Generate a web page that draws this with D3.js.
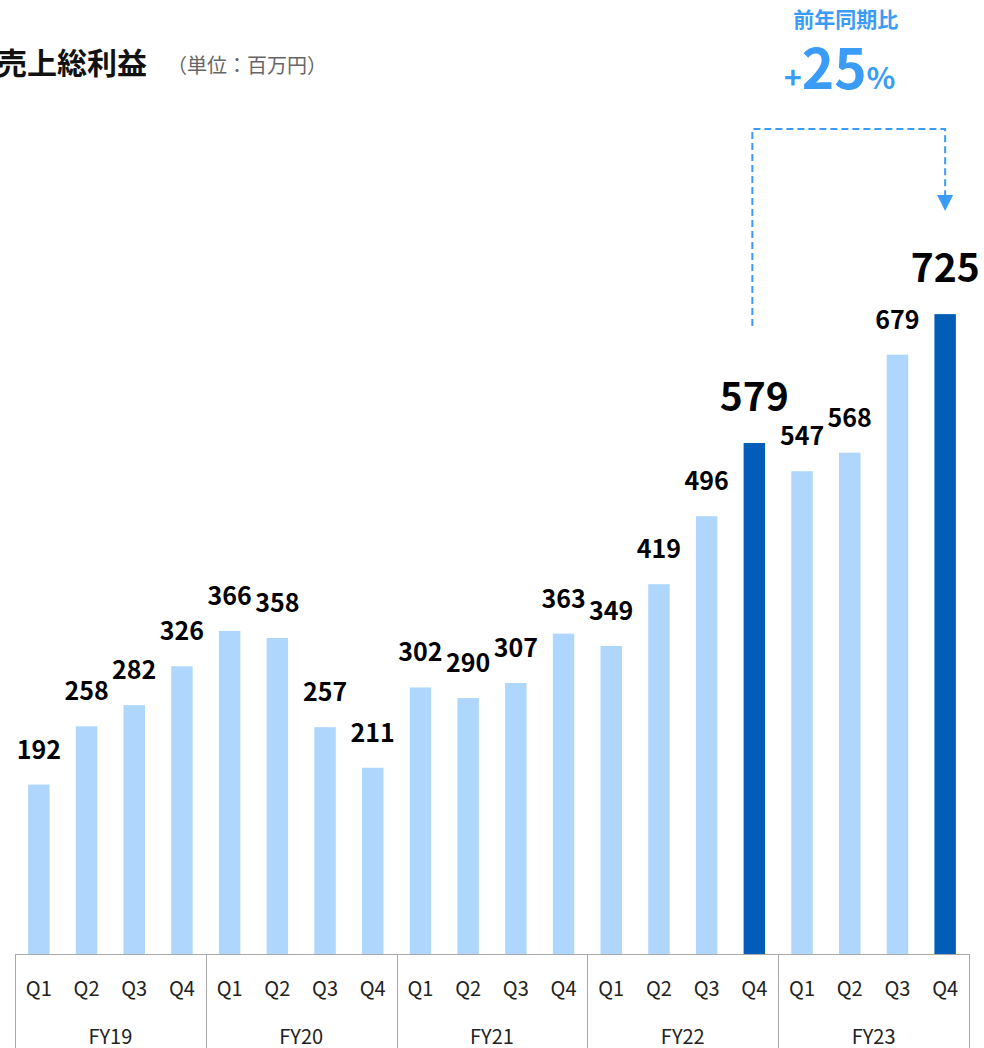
<!DOCTYPE html>
<html lang="ja">
<head>
    <meta charset="UTF-8">
    <title>売上総利益</title>
    <style>
        html, body { margin: 0; padding: 0; background: #fff; }
        svg text { font-family: 'Noto Sans CJK JP', 'Noto Sans', sans-serif; }
    </style>
    <script src="https://d3js.org/d3.v7.min.js"></script>
</head>
<body>
    <svg width="984" height="1048"></svg>
    <script>
        const years = ["FY19", "FY20", "FY21", "FY22", "FY23"];
        const quarters = ["Q1", "Q2", "Q3", "Q4"];
        const values = [
            192, 258, 282, 326,
            366, 358, 257, 211,
            302, 290, 307, 363,
            349, 419, 496, 579,
            547, 568, 679, 725
        ];
        const highlighted = ["FY22-Q4", "FY23-Q4"];
        const yoyLabel = "前年同期比";
        const yoyValue = "25";

        const data = [];
        years.forEach((fy, i) => quarters.forEach((q, j) => {
            data.push({ key: `${fy}-${q}`, fy, q, value: values[i * 4 + j] });
        }));

        const width = 984, height = 1048;
        const left = 15, right = 969, base = 954;
        const svg = d3.select("svg").attr("width", width).attr("height", height);

        const x = d3.scaleBand()
            .domain(data.map(d => d.key))
            .range([left, right])
            .paddingInner(0.55)
            .paddingOuter(0.275);

        const xYear = d3.scaleBand()
            .domain(years)
            .range([left, right]);

        const y = d3.scaleLinear()
            .domain([0, 1000])
            .range([base, base - 882.6]);

        const light = "#afd7fd", dark = "#015db7", accent = "#3a9cf6";

        // bars
        svg.append("g").selectAll("rect")
            .data(data)
            .enter().append("rect")
            .attr("x", d => x(d.key))
            .attr("y", d => y(d.value))
            .attr("width", x.bandwidth())
            .attr("height", d => y(0) - y(d.value))
            .attr("fill", d => highlighted.includes(d.key) ? dark : light);

        // value labels
        svg.append("g").selectAll("text")
            .data(data)
            .enter().append("text")
            .attr("x", d => x(d.key) + x.bandwidth() / 2)
            .attr("y", d => y(d.value) - (highlighted.includes(d.key) ? 32 : 26))
            .attr("text-anchor", "middle")
            .style("font-weight", "700")
            .style("font-size", d => highlighted.includes(d.key) ? "39px" : "25px")
            .style("fill", "#000")
            .text(d => d.value);

        // category axis box
        const axis = svg.append("g").attr("stroke", "#aaa").attr("stroke-width", 1).attr("fill", "none");
        axis.append("line").attr("x1", left).attr("x2", right).attr("y1", base + 0.5).attr("y2", base + 0.5);
        years.forEach(fy => {
            axis.append("line")
                .attr("x1", Math.round(xYear(fy)) + 0.5).attr("x2", Math.round(xYear(fy)) + 0.5)
                .attr("y1", base).attr("y2", height);
        });
        axis.append("line")
            .attr("x1", right + 0.5).attr("x2", right + 0.5)
            .attr("y1", base).attr("y2", height);

        svg.append("g").selectAll("text")
            .data(data)
            .enter().append("text")
            .attr("x", d => x(d.key) + x.bandwidth() / 2)
            .attr("y", 996)
            .attr("text-anchor", "middle")
            .style("font-size", "20px")
            .style("fill", "#222")
            .text(d => d.q);

        svg.append("g").selectAll("text")
            .data(years)
            .enter().append("text")
            .attr("x", d => xYear(d) + xYear.bandwidth() / 2)
            .attr("y", 1044)
            .attr("text-anchor", "middle")
            .style("font-size", "20px")
            .style("fill", "#222")
            .text(d => d);

        // title
        svg.append("text")
            .attr("x", 147)
            .attr("y", 74)
            .attr("text-anchor", "end")
            .style("font-size", "30px")
            .style("font-weight", "700")
            .style("fill", "#111")
            .text("売上総利益");

        svg.append("text")
            .attr("x", 167)
            .attr("y", 73)
            .style("font-size", "20px")
            .style("fill", "#666")
            .text("（単位：百万円）");

        // year-over-year annotation
        const from = data.find(d => d.key === highlighted[0]);
        const to = data.find(d => d.key === highlighted[1]);
        const x0 = x(from.key) + x.bandwidth() / 2 - 2;
        const x1 = x(to.key) + x.bandwidth() / 2;
        const topY = 129;

        svg.append("path")
            .attr("d", `M${x0},${y(from.value) - 117} V${topY} H${x1} V${y(to.value) - 118}`)
            .attr("fill", "none")
            .attr("stroke", accent)
            .attr("stroke-width", 2)
            .attr("stroke-dasharray", "7,4");

        const tipY = y(to.value) - 103;
        svg.append("path")
            .attr("d", `M${x1 - 8},${tipY - 16} L${x1 + 8},${tipY - 16} L${x1},${tipY} Z`)
            .attr("fill", accent);

        const cx = (x0 + x1) / 2 - 3;
        svg.append("text")
            .attr("x", cx)
            .attr("y", 27)
            .attr("text-anchor", "middle")
            .style("font-size", "21px")
            .style("font-weight", "700")
            .style("fill", accent)
            .text(yoyLabel);

        const pct = svg.append("text")
            .attr("x", cx - 6)
            .attr("y", 89)
            .attr("text-anchor", "middle")
            .style("font-weight", "700")
            .style("fill", accent);
        pct.append("tspan").style("font-size", "30px").text("+");
        pct.append("tspan").style("font-size", "55px").text(yoyValue);
        pct.append("tspan").style("font-size", "30px").text("%");
    </script>
</body>
</html>
